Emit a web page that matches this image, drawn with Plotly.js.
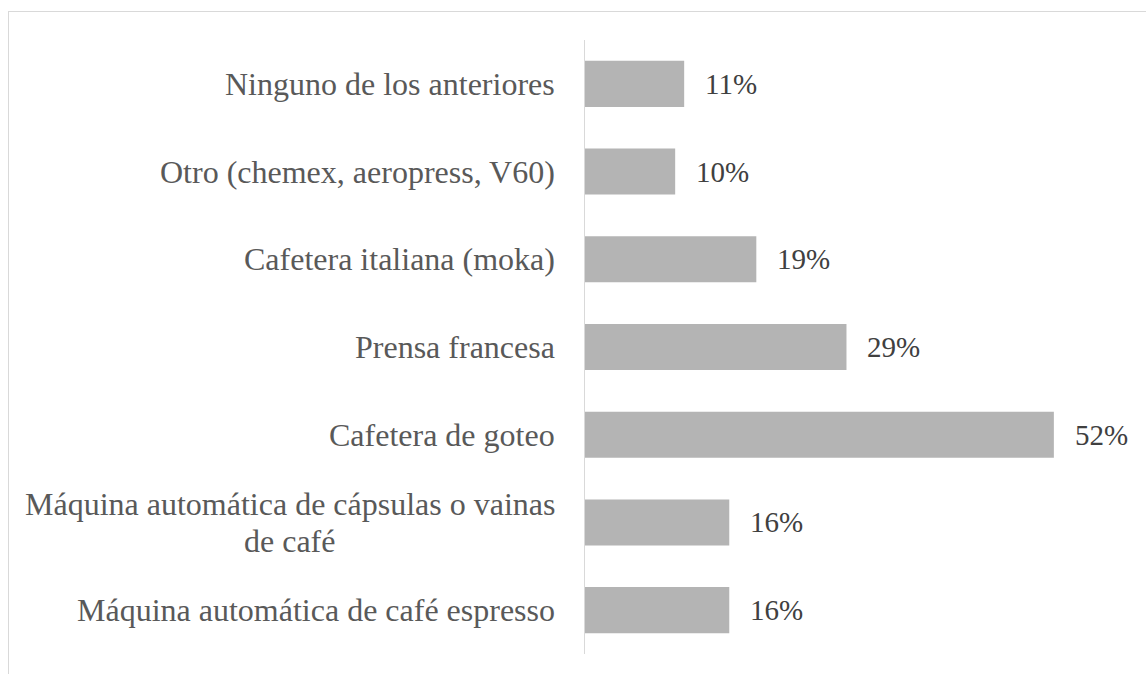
<!DOCTYPE html>
<html>
<head>
<meta charset="utf-8">
<script src="https://cdn.plot.ly/plotly-3.0.1.min.js"></script>
<style>
  html, body { margin: 0; padding: 0; background: #ffffff; }
  #wrap { position: relative; width: 1146px; height: 674px; overflow: hidden; }
  #chart { width: 1146px; height: 674px; }
  #frame {
    position: absolute; left: 8px; top: 11px; width: 1200px; height: 700px;
    border: 1px solid #d9d9d9; box-sizing: border-box; pointer-events: none;
  }
</style>
</head>
<body>
<div id="wrap">
  <div id="chart"></div>
  <div id="frame"></div>
</div>
<script>
// Coffee preparation methods, listed top to bottom
const categories = [
  "Ninguno de los anteriores",
  "Otro (chemex, aeropress, V60)",
  "Cafetera italiana (moka)",
  "Prensa francesa",
  "Cafetera de goteo",
  "Máquina automática de cápsulas o vainas<br>de café",
  "Máquina automática de café espresso"
];
const percentages = [11, 10, 19, 29, 52, 16, 16];
const valueLabels = ["11%", "10%", "19%", "29%", "52%", "16%", "16%"];

const FAMILY = "Liberation Serif, Times New Roman, serif";
const CAT_SIZE = 32;
const VAL_SIZE = 29;
const LINE_GAP = 37;     // baseline-to-baseline distance for wrapped names
const LABEL_PAD = 30;    // gap between names and the axis line

// Width measurement so wrapped lines can be centred as one block
const ctx = document.createElement("canvas").getContext("2d");
ctx.font = CAT_SIZE + "px 'Liberation Serif', 'Times New Roman', serif";
const textWidth = s => ctx.measureText(s).width;

const trace = {
  type: "bar",
  orientation: "h",
  x: percentages,
  y: categories,
  marker: { color: "#b4b4b4" },
  hoverinfo: "skip"
};

// Category names: each line as its own note, lines centred within the block
const categoryNotes = [];
categories.forEach(c => {
  const lines = c.split("<br>");
  const blockW = Math.max(...lines.map(textWidth));
  lines.forEach((line, k) => {
    categoryNotes.push({
      xref: "paper", yref: "y",
      x: 0, y: c,
      xanchor: "center", yanchor: "middle",
      xshift: -LABEL_PAD - blockW / 2,
      yshift: ((lines.length - 1) / 2 - k) * LINE_GAP,
      text: line,
      showarrow: false,
      font: { family: FAMILY, size: CAT_SIZE, color: "#595959" }
    });
  });
});

// Percent labels just past each bar end
const valueNotes = categories.map((c, i) => ({
  xref: "x", yref: "y",
  x: percentages[i], y: c,
  xanchor: "left", yanchor: "middle",
  xshift: 19,
  text: valueLabels[i],
  showarrow: false,
  font: { family: FAMILY, size: VAL_SIZE, color: "#404040" }
}));

const layout = {
  width: 1146, height: 674,
  margin: { l: 585, r: 20, t: 40, b: 20 },
  paper_bgcolor: "#ffffff",
  plot_bgcolor: "#ffffff",
  bargap: 0.475,
  showlegend: false,
  font: { family: FAMILY },
  xaxis: { range: [0, 60], visible: false, fixedrange: true },
  yaxis: {
    type: "category",
    autorange: "reversed",
    showticklabels: false,
    ticks: "",
    showgrid: false,
    zeroline: false,
    showline: true,
    linecolor: "#d9d9d9",
    linewidth: 1.5,
    fixedrange: true
  },
  annotations: categoryNotes.concat(valueNotes)
};

Plotly.newPlot("chart", [trace], layout, { displayModeBar: false, staticPlot: true });
</script>
</body>
</html>
